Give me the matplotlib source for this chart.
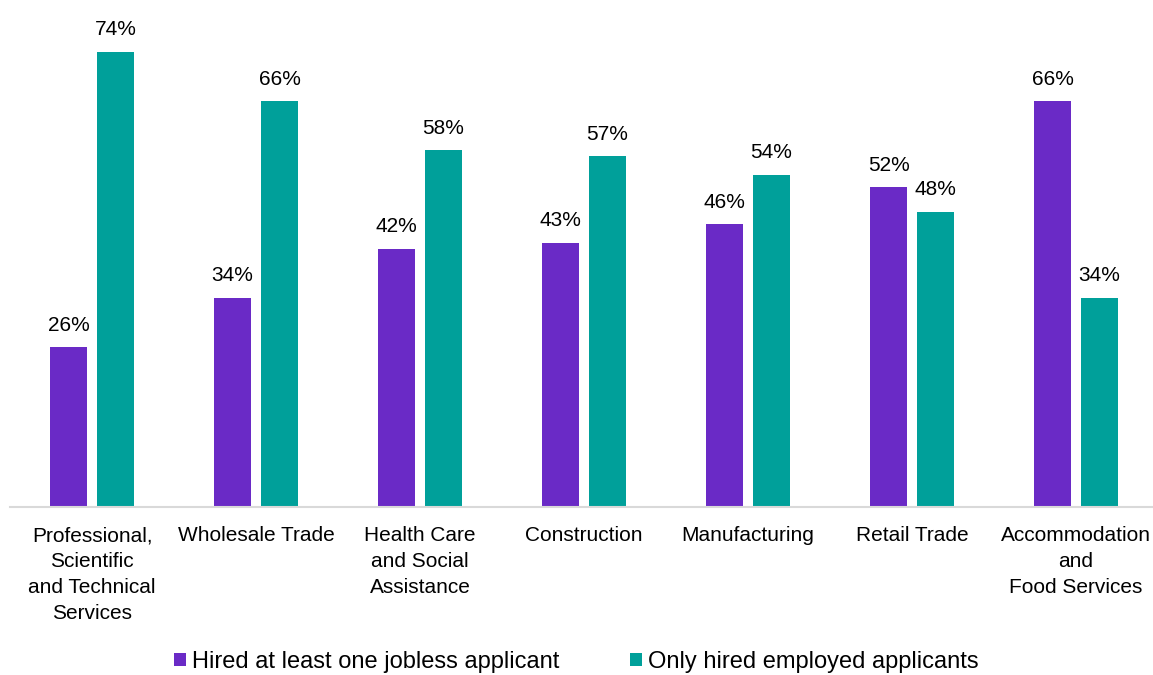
import matplotlib.pyplot as plt
import numpy as np

plt.rcParams['font.family'] = ['Liberation Sans', 'DejaVu Sans']

categories = ["Professional,\nScientific\nand Technical\nServices", "Wholesale Trade",
              "Health Care\nand Social\nAssistance", "Construction", "Manufacturing",
              "Retail Trade", "Accommodation\nand\nFood Services"]
jobless = [26, 34, 42, 43, 46, 52, 66]
employed = [74, 66, 58, 57, 54, 48, 34]
series_names = ["Hired at least one jobless applicant", "Only hired employed applicants"]

purple = "#6A2AC6"
teal = "#00A09A"

fig = plt.figure(figsize=(11.53, 6.75), dpi=100)
ax = fig.add_axes([10 / 1153, 168 / 675, 1148 / 1153, 492 / 675])

x = np.arange(len(categories))
w = 0.225
off = 0.143
b1 = ax.bar(x - off, jobless, w, color=purple, label=series_names[0])
b2 = ax.bar(x + off, employed, w, color=teal, label=series_names[1])

for bars in (b1, b2):
    for bar in bars:
        ax.annotate(f"{bar.get_height():.0f}%",
                    (bar.get_x() + bar.get_width() / 2, bar.get_height()),
                    xytext=(0, 9), textcoords="offset points",
                    ha="center", va="bottom", fontsize=15)

ax.set_xlim(-0.5, len(categories) - 0.5)
ax.set_ylim(0, 80)
ax.set_xticks(x)
ax.set_xticklabels(categories, fontsize=15, linespacing=1.45)
ax.tick_params(axis="x", length=0, pad=14)
ax.set_yticks([])
for s in ["top", "right", "left"]:
    ax.spines[s].set_visible(False)
ax.spines["bottom"].set_color("#D9D9D9")
ax.spines["bottom"].set_linewidth(1.5)

fig.legend(loc="lower center", bbox_to_anchor=(0.5, -0.021), ncol=2, frameon=False,
           fontsize=17, handlelength=0.5, handleheight=0.5, handletextpad=0.25,
           columnspacing=3.0, borderpad=0.2)

fig.savefig("out.png", dpi=100)
